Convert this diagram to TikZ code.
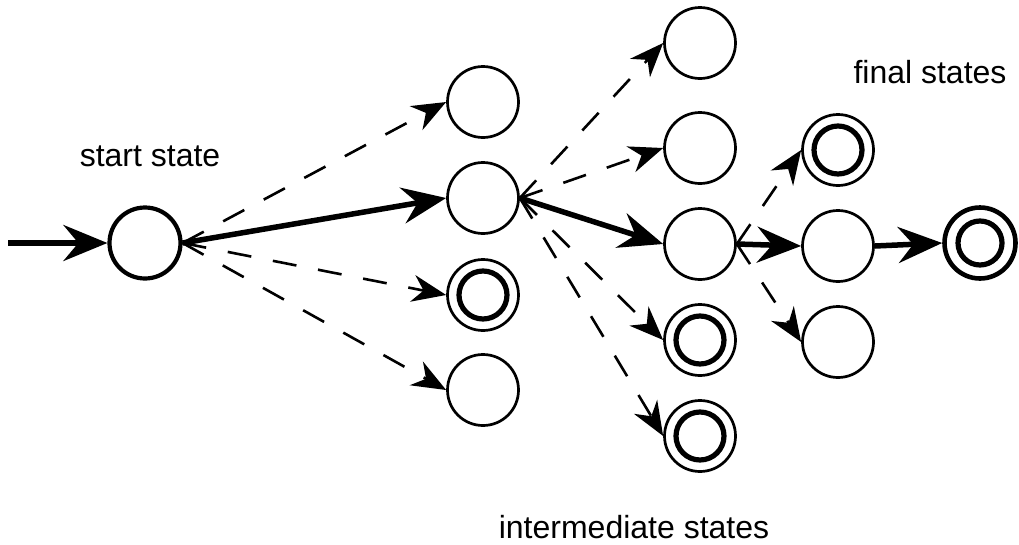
\documentclass[tikz,border=0pt]{standalone}
\usepackage{fontspec}
\setmainfont{Liberation Sans}
\usetikzlibrary{arrows.meta}
\tikzset{
	state/.style={circle, draw, line width=2.7pt, minimum size=71pt, inner sep=0pt},
	startstate/.style={state, line width=4.2pt},
	accept/.style={state, path picture={\draw[line width=5.2pt] (path picture bounding box.center) circle (24pt);}},
	lastaccept/.style={state, line width=4.6pt, path picture={\draw[line width=5.2pt] (path picture bounding box.center) circle (22pt);}},
	mainarrow/.style={line width=5.5pt, -{Stealth[length=44pt, width=36pt, inset=15pt]}},
	tryarrow/.style={line width=2.6pt, dash pattern=on 24pt off 22pt, -{Stealth[length=34pt, width=27pt, inset=11pt]}},
	caption/.style={anchor=base, font=\fontsize{32}{38}\selectfont}
}

\begin{document}
\begin{tikzpicture}[x=1pt, y=-1pt]
			%%%%% START %%%%%
			\useasboundingbox (0, 0) rectangle (1019, 544);
			
			\node[startstate] (s) at (145, 243) {};
			\coordinate (in) at (8, 243);
			
			\node[state] (a1) at (483, 102) {};
			\node[state] (a2) at (483, 198) {};
			\node[accept] (a3) at (483, 295) {};
			\node[state] (a4) at (483, 390) {};
			
			\node[state] (b1) at (700, 43) {};
			\node[state] (b2) at (700, 148) {};
			\node[state] (b3) at (700, 244) {};
			\node[accept] (b4) at (700, 340) {};
			\node[accept] (b5) at (700, 436) {};
			
			\node[accept] (c1) at (838, 150) {};
			\node[state] (c2) at (838, 246) {};
			\node[state] (c3) at (838, 342) {};
			
			\node[lastaccept] (f) at (980, 243) {};
			
			\node[caption] (startlabel) at (150, 166) {start state};
			\node[caption] (finallabel) at (930, 83) {final states};
			\node[caption] (midlabel) at (634, 538) {intermediate states};
			
			\draw[mainarrow] (in) -- (s.west);
			\draw[mainarrow] (s.east) -- (a2.west);
			\draw[mainarrow] (a2.east) -- (b3.west);
			\draw[mainarrow] (b3.east) -- (c2.west);
			\draw[mainarrow] (c2.east) -- (f.west);
			
			\draw[tryarrow] (s.east) -- (a1.west);
			\draw[tryarrow] (s.east) -- (a3.west);
			\draw[tryarrow] (s.east) -- (a4.west);
			
			\draw[tryarrow] (a2.east) -- (b1.west);
			\draw[tryarrow] (a2.east) -- (b2.west);
			\draw[tryarrow] (a2.east) -- (b4.west);
			\draw[tryarrow] (a2.east) -- (b5.west);
			
			\draw[tryarrow] (b3.east) -- (c1.west);
			\draw[tryarrow] (b3.east) -- (c3.west);
			
			%%%%% END %%%%%
\end{tikzpicture}
\end{document}
